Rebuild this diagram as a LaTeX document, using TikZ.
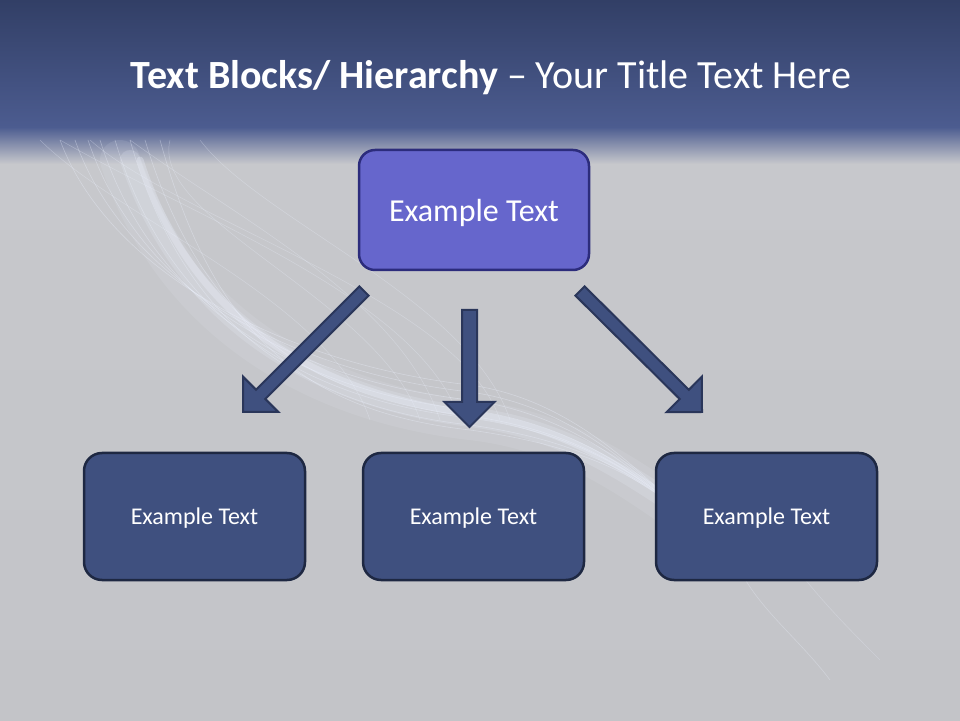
\documentclass[tikz,border=0pt]{standalone}
\usepackage{fontspec}
\setmainfont{Carlito}
\usetikzlibrary{calc}
\definecolor{bandtop}{HTML}{323F66}
\definecolor{bandbot}{HTML}{4C5C90}
\definecolor{bggray}{HTML}{C7C8CC}
\definecolor{bggray2}{HTML}{C3C4C8}
\definecolor{topfill}{HTML}{6666CC}
\definecolor{topline}{HTML}{2C2C7C}
\definecolor{boxfill}{HTML}{3F507F}
\definecolor{boxline}{HTML}{1E2842}
\definecolor{arrline}{HTML}{2A365A}
\definecolor{glow}{HTML}{EEF3FF}
\newcommand\blockarrow[3]{%
  \coordinate (#1-n) at ($(#2)!25pt!(#1)$);
  \draw[barrow] ($(#1)!#3!90:(#2)$) -- ($(#1-n)!#3!-90:(#1)$) -- ($(#1-n)!25pt!-90:(#1)$) -- (#2) -- ($(#1-n)!25pt!90:(#1)$) -- ($(#1-n)!#3!90:(#1)$) -- ($(#1)!#3!-90:(#2)$) -- cycle;}
\begin{document}
\begin{tikzpicture}[x=1pt,y=1pt,
  topbox/.style={draw=topline, fill=topfill, line width=2.5pt, rounded corners=16pt,
    minimum width=230pt, minimum height=120pt, text=white, font=\fontsize{32}{38}\selectfont, inner sep=0pt, text depth=0pt},
  lowbox/.style={draw=boxline, fill=boxfill, line width=2.5pt, rounded corners=18pt,
    minimum width=221pt, minimum height=127pt, text=white, font=\fontsize{24}{29}\selectfont, inner sep=0pt, text depth=0pt},
  barrow/.style={draw=arrline, fill=boxfill, line width=2pt, line join=miter},
  swoosh/.style={glow, line cap=round}]
\useasboundingbox (0,0) rectangle (960,720);
% background
\fill[top color=bggray, bottom color=bggray2] (0,0) rectangle (960,560);
\fill[top color=bandbot, bottom color=bggray] (0,556) rectangle (960,593);
\fill[top color=bandtop, bottom color=bandbot] (0,592) rectangle (960,720);
% swoosh texture
\begin{scope}
\clip (0,0) rectangle (960,590);
\draw[swoosh, opacity=0.10, line width=40pt] (120,560) .. controls (170,410) and (300,320) .. (470,300) .. controls (560,290) and (620,250) .. (690,200);
\draw[swoosh, opacity=0.18, line width=20pt] (130,560) .. controls (180,410) and (300,325) .. (470,303) .. controls (560,292) and (620,252) .. (690,205);
\draw[swoosh, opacity=0.30, line width=7pt] (140,560) .. controls (190,405) and (305,330) .. (470,306) .. controls (560,294) and (620,255) .. (690,208);
\foreach \dx/\dy in {0/0, 15/-8, -12/10, 30/-15, -25/18, 45/-6, 60/-20, -40/25}{
  \draw[swoosh, opacity=0.35, line width=0.6pt] (100+\dx,580) .. controls (150+\dx,420+\dy) and (290,330+\dy) .. (470,310+\dy) .. controls (570,296+\dy) and (640,250) .. (700,190);
}
\foreach \a/\b/\c in {60/200/420, 90/180/460, 130/240/400, 170/150/380, 200/260/470, 40/120/330}{
  \draw[swoosh, opacity=0.3, line width=0.5pt] (\a,580) .. controls (\b,500) and (\c,420) .. (\c+40,300);
}
\draw[swoosh, opacity=0.3, line width=0.6pt] (740,150) .. controls (760,110) and (800,80) .. (830,40);
\draw[swoosh, opacity=0.25, line width=0.6pt] (790,160) .. controls (820,120) and (850,90) .. (880,60);
\end{scope}
% title
\node[anchor=base, text=white, font=\fontsize{40}{48}\selectfont, inner sep=0pt] (title) at (491,631)
  {\textbf{Text Blocks/ Hierarchy} – Your Title Text Here};
% nodes
\node[topbox] (top) at (474,510) {Example Text};
\node[lowbox] (left) at (194.5,203.5) {Example Text};
\node[lowbox] (mid) at (473.5,203.5) {Example Text};
\node[lowbox] (right) at (766.5,203.5) {Example Text};
% arrows
\coordinate (la) at (364,429); \coordinate (lb) at (243,308);
\coordinate (ma) at (469.5,410); \coordinate (mb) at (469.5,293);
\coordinate (ra) at (580,429); \coordinate (rb) at (702,308);
\blockarrow{la}{lb}{6.5pt}
\blockarrow{ma}{mb}{7.5pt}
\blockarrow{ra}{rb}{6.5pt}
\end{tikzpicture}
\end{document}
